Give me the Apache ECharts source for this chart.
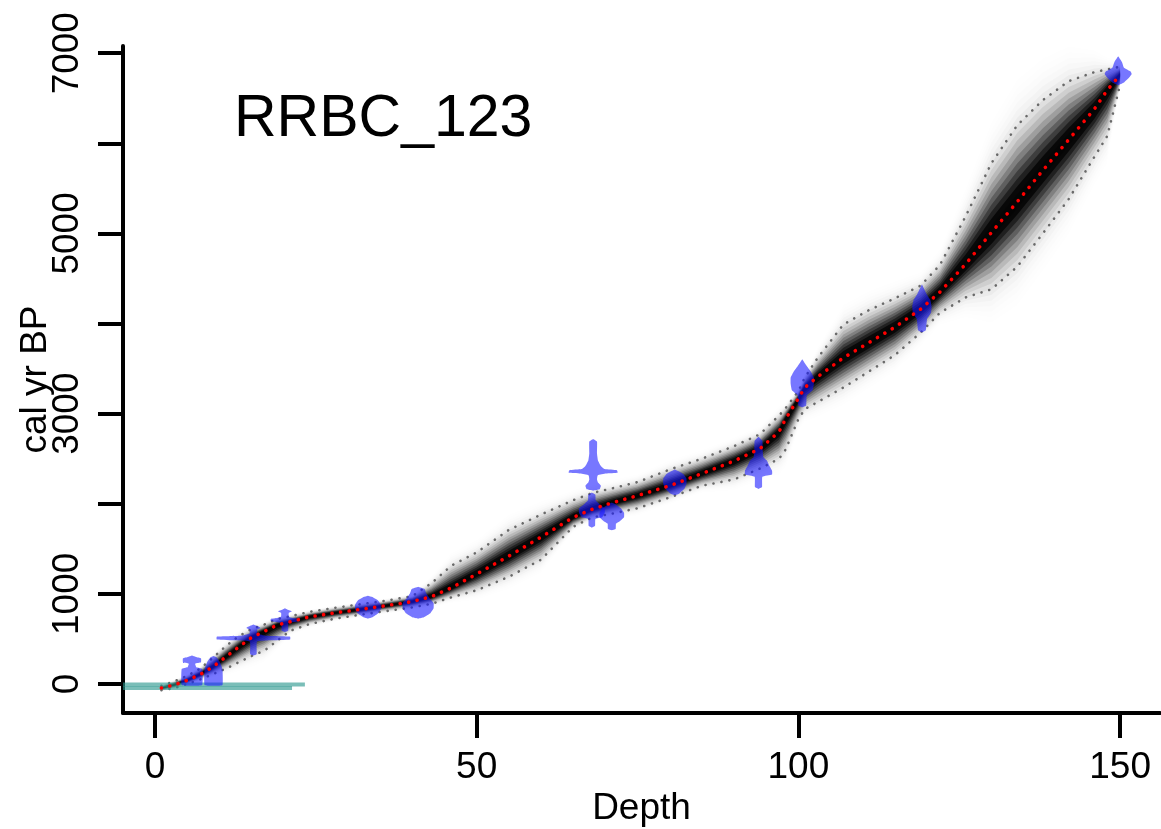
<!DOCTYPE html>
<html><head><meta charset="utf-8">
<script src="https://cdn.jsdelivr.net/npm/echarts@6/dist/echarts.min.js"></script>
<style>html,body{margin:0;padding:0;background:#fff}#c{width:1161px;height:829px}</style>
</head><body><div id="c"></div>
<script>
// ---- age model (depth in cm, ages in cal yr BP) ----
const depth  = [1,3,5,7,9,11,13,15,17,19,21,24,28,32,36,40,43,46,50,55,60,65,68,71,75,80,85,90,94,97,98,100,101,103,107,111,115,119,122,126,130,134,138,142,146,148,150];
const meanAge = [-45,-10,40,105,190,300,410,515,585,655,690,745,790,828,870,915,970,1065,1220,1420,1630,1850,1940,2010,2090,2200,2335,2475,2610,2800,2940,3170,3290,3410,3620,3790,3960,4160,4350,4660,5010,5350,5700,6040,6380,6590,6760];
const hiAge   = [-20,30,90,170,290,420,530,610,660,720,750,800,845,885,925,975,1120,1310,1460,1710,1880,2040,2120,2170,2240,2380,2500,2640,2770,2980,3060,3250,3400,3620,3990,4150,4280,4420,4650,5190,5780,6200,6480,6690,6790,6820,6850];
const loAge   = [-70,-45,0,50,110,170,240,310,370,480,590,665,725,770,810,850,890,960,1040,1190,1380,1745,1850,1890,1950,2070,2200,2270,2390,2500,2600,2940,3050,3130,3290,3470,3650,3900,4120,4290,4380,4630,5000,5380,5850,6080,6650];

// ---- dated levels: depth, central age, profile [age, half-width (cm)] ----
const dateDepths = [5.75, 9.1, 15.3, 20.2, 33.1, 40.9, 68.1, 67.9, 71.0, 80.8, 93.8, 100.6, 119.2, 149.7];
const dateAges   = [120, 130, 510, 700, 855, 890, 2355, 1930, 1850, 2240, 2440, 3375, 4185, 6780];
const dateProfiles = [
  [[-20,0.3],[-10,1.6],[165,1.6],[185,0.7],[225,0.5],[240,1.4],[285,1.4],[300,0.6],[315,0]],
  [[-20,0.3],[-10,1.4],[155,1.4],[205,1.2],[255,0.9],[295,0.5],[310,0]],
  [[315,0],[330,0.5],[470,0.55],[485,2.5],[495,5.7],[525,5.7],[535,2.0],[560,0.6],[605,0.6],[622,1.1],[645,0.5],[660,0]],
  [[575,0],[590,0.5],[675,0.55],[690,1.8],[698,2.2],[722,2.2],[732,1.2],[750,0.6],[790,0.6],[808,1.1],[825,0.4],[840,0]],
  [[725,0],[740,0.7],[785,1.6],[830,2.0],[880,2.0],[925,1.6],[965,0.7],[980,0]],
  [[725,0],[740,0.9],[785,1.9],[840,2.4],[900,2.4],[950,1.8],[1000,1.3],[1055,1.0],[1080,0]],
  [[2145,0],[2160,1.0],[2200,1.2],[2235,0.75],[2270,0.6],[2315,0.7],[2335,2.0],[2343,3.8],[2372,3.7],[2385,1.8],[2420,1.2],[2480,0.75],[2560,0.6],[2690,0.6],[2720,0]],
  [[1735,0],[1755,0.5],[1830,0.55],[1850,1.6],[1900,2.0],[1950,2.0],[1990,1.3],[2040,0.6],[2100,0.55],[2125,0]],
  [[1705,0],[1720,0.6],[1780,0.65],[1810,1.3],[1850,1.9],[1900,1.9],[1950,1.4],[1990,0.7],[2015,0]],
  [[2095,0],[2115,0.7],[2170,1.5],[2220,1.8],[2280,1.8],[2330,1.3],[2360,0.6],[2380,0]],
  [[2165,0],[2185,0.55],[2300,0.6],[2325,2.1],[2370,2.1],[2420,1.7],[2480,1.3],[2520,0.75],[2600,0.65],[2700,0.6],[2745,0]],
  [[3070,0],[3090,0.6],[3200,0.7],[3260,1.6],[3330,1.8],[3400,1.8],[3470,1.3],[3530,0.7],[3605,0]],
  [[3900,0],[3925,0.6],[4050,0.8],[4120,1.4],[4190,1.5],[4260,1.3],[4330,0.7],[4435,0]],
  [[6645,0],[6675,0.9],[6730,1.7],[6770,2.1],[6800,1.9],[6840,0.9],[6900,0.6],[6965,0]]
];

// ---- surface (teal) bars ----
const surfaceAges = [-5, -45];
const surfaceEndDepths = [23.3, 21.3];

// ---- axes ----
const xTicks = [0, 50, 100, 150];
const yTicks = [0, 1000, 2000, 3000, 4000, 5000, 6000, 7000];
const yTickLabels = [0, 1000, 3000, 5000, 7000];
const X_MIN = -4.97, X_MAX = 156.2, Y_MIN = -322, Y_MAX = 7080;

const FONT = 'Liberation Sans, Arial, sans-serif';

// grey density shading: nested bands, opacity derived from a gaussian profile
const levels = [];
for (let s = 1.6; s > 0.04; s -= 0.1) levels.push(+s.toFixed(2));
const target = s => Math.min(0.975, 1.05 * Math.exp(-2.1 * s * s));
const alphas = [];
let prevT = 0;
levels.forEach(s => { const T = target(s); alphas.push(1 - (1 - T) / (1 - prevT)); prevT = T; });

const chart = echarts.init(document.getElementById('c'), null, {renderer: 'canvas'});
const option = {
  animation: false,
  backgroundColor: '#fff',
  title: {text: 'RRBC_123', left: 229, top: 85,
    textStyle: {fontFamily: FONT, fontSize: 59, fontWeight: 'normal', color: '#000'}},
  grid: {left: 123, right: 1, top: 46, bottom: 116, containLabel: false, outerBoundsMode: 'none'},
  xAxis: {
    type: 'value', min: X_MIN, max: X_MAX,
    name: 'Depth', nameLocation: 'middle', nameGap: 77, nameMoveOverlap: false,
    nameTextStyle: {fontFamily: FONT, fontSize: 37, color: '#000'},
    axisLine: {show: true, onZero: false, lineStyle: {color: '#000', width: 4}},
    axisTick: {show: true, inside: false, length: 25, lineStyle: {color: '#000', width: 4}, customValues: xTicks},
    axisLabel: {fontFamily: FONT, fontSize: 37, color: '#000', margin: 36, customValues: xTicks,
      formatter: v => String(v)},
    splitLine: {show: false}
  },
  yAxis: {
    type: 'value', min: Y_MIN, max: Y_MAX,
    name: 'cal yr BP', nameLocation: 'middle', nameGap: 69, nameRotate: 90, nameMoveOverlap: false,
    nameTextStyle: {fontFamily: FONT, fontSize: 37, color: '#000'},
    axisLine: {show: true, onZero: false, lineStyle: {color: '#000', width: 4}},
    axisTick: {show: true, inside: false, length: 25, lineStyle: {color: '#000', width: 4}, customValues: yTicks},
    axisLabel: {fontFamily: FONT, fontSize: 37, color: '#000', margin: 37, rotate: 90, customValues: yTickLabels,
      formatter: v => String(v)},
    splitLine: {show: false}
  },
  series: [
    {
      type: 'custom', z: 1, silent: true,
      data: levels.map((s, i) => [depth[0], meanAge[0], i]),
      renderItem: function (params, api) {
        const s = levels[params.dataIndex];
        const pts = [];
        for (let i = 0; i < depth.length; i++) pts.push(api.coord([depth[i], meanAge[i] + (hiAge[i] - meanAge[i]) * s]));
        for (let i = depth.length - 1; i >= 0; i--) pts.push(api.coord([depth[i], meanAge[i] - (meanAge[i] - loAge[i]) * s]));
        return {type: 'polygon', shape: {points: pts}, style: {fill: 'rgba(0,0,0,' + alphas[params.dataIndex].toFixed(3) + ')'}};
      }
    },
    {
      type: 'line', z: 2, symbol: 'none', silent: true,
      data: depth.map((d, i) => [d, hiAge[i]]),
      lineStyle: {color: '#6a6a6a', width: 2.6, type: [0.1, 8], cap: 'round'}
    },
    {
      type: 'line', z: 2, symbol: 'none', silent: true,
      data: depth.map((d, i) => [d, loAge[i]]),
      lineStyle: {color: '#6a6a6a', width: 2.6, type: [0.1, 8], cap: 'round'}
    },
    ...surfaceAges.map((a, k) => ({
      type: 'line', z: 3, symbol: 'none', silent: true,
      data: [[X_MIN, a], [surfaceEndDepths[k], a]],
      lineStyle: {color: 'rgba(40,150,140,0.62)', width: 4}
    })),
    {
      type: 'custom', z: 4, silent: true,
      data: dateDepths.map((d, i) => [d, dateAges[i]]),
      renderItem: function (params, api) {
        const i = params.dataIndex;
        const d = dateDepths[i], prof = dateProfiles[i];
        const pts = [];
        prof.forEach(p => pts.push(api.coord([d + p[1], p[0]])));
        for (let j = prof.length - 1; j >= 0; j--) pts.push(api.coord([d - prof[j][1], prof[j][0]]));
        return {type: 'polygon', shape: {points: pts, smooth: 0.12}, style: {fill: 'rgba(20,20,255,0.58)'}};
      }
    },
    {
      type: 'line', z: 5, symbol: 'none', silent: true,
      data: depth.map((d, i) => [d, meanAge[i]]),
      lineStyle: {color: '#ff0000', width: 3.6, type: [0.1, 8.5], cap: 'round'}
    }
  ]
};
chart.setOption(option);
</script></body></html>
